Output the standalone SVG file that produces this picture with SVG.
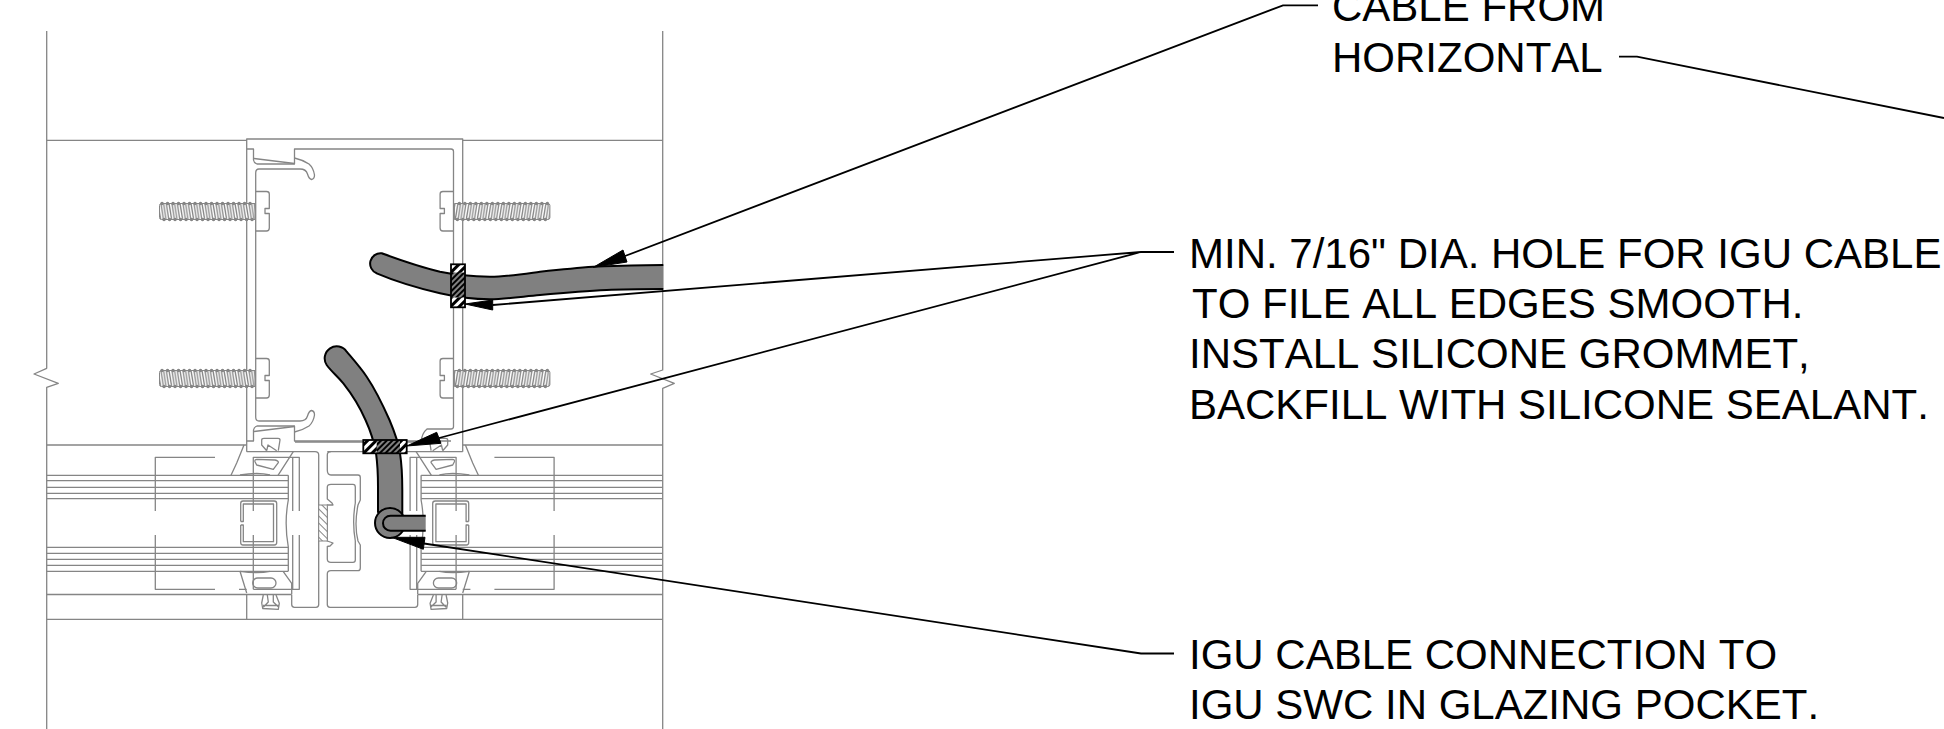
<svg xmlns="http://www.w3.org/2000/svg" xmlns:xlink="http://www.w3.org/1999/xlink" width="1944" height="729" viewBox="0 0 1944 729">
<style>
.g{fill:none;stroke:#858585;stroke-width:1.3;stroke-linejoin:round}
.gw{fill:#fff;stroke:#858585;stroke-width:1.3;stroke-linejoin:round}
.k{fill:none;stroke:#000;stroke-width:2}
.l{fill:none;stroke:#000;stroke-width:1.8}
.a{fill:#000;stroke:#000;stroke-width:1}
.c{fill:#808080;stroke:none}
.t{font-family:"Liberation Sans",Arial,sans-serif;font-size:42px;fill:#000;font-kerning:none}
</style>
<defs>
<pattern id="thr" patternUnits="userSpaceOnUse" width="5.500" height="22" x="159" y="200">
<rect width="5.500" height="22" fill="#fff"/>
<path d="M-1.500 0L2 22M1.300 0L4.800 22M4 0L7.500 22" stroke="#858585" stroke-width="1.300" fill="none"/>
</pattern>
<pattern id="hw" patternUnits="userSpaceOnUse" width="6" height="6" patternTransform="rotate(45)">
<rect width="6" height="6" fill="#fff"/><rect width="3" height="6" fill="#000"/>
</pattern>
<pattern id="hk" patternUnits="userSpaceOnUse" width="4" height="4" patternTransform="rotate(45)">
<rect width="4" height="4" fill="#808080"/><rect width="2" height="4" fill="#000"/>
</pattern>
<pattern id="hg" patternUnits="userSpaceOnUse" width="5" height="5" patternTransform="rotate(-45)">
<rect width="5" height="5" fill="#fff"/><rect width="1" height="5" fill="#858585"/>
</pattern>
<g id="screw">
<path d="M255 203.500H161.500Q159.500 203.500 159.500 205.500V217.500Q159.500 219.500 161.500 219.500H255Z" fill="url(#thr)" stroke="#858585" stroke-width="1"/>
<path d="M162 203.500H255M164 219.500H255" fill="none" stroke="#858585" stroke-width="3.400" stroke-linecap="round" stroke-dasharray="0.100 5.400"/>
<path d="M255.700 191.500H266.500Q269.300 191.500 269.300 194V208.500H265V213.500H269.300V228Q269.300 231 266.500 231H255.700" class="gw"/>
</g>
<g id="clip">
<path d="M246.700 149H253.500V160Q254 163 257 164H294.500V149H451" class="g"/>
<path d="M254 158.500L294.500 163.500" class="g"/>
<path d="M255.700 295V173Q255.700 169 259 169H300Q306 169 307.500 174Q309 179 311.500 179.500Q314.500 179 314.500 175Q313.500 168 309 164Q303 160 294.500 158" class="g"/>
</g>
<g id="side">
<path d="M155.300 511V457.300H215M155.300 535V589.300H215M239 589.300H246.700M253.300 589.300H299.300V535M299.300 511V457.300H253.300V511M253.300 535V589.300" class="g"/>
<path d="M292.700 457.300V511M292.700 535V589.300" class="g"/>
<path d="M46.700 475.300H288.300M46.700 480.700H288.300M46.700 487.300H288.300M46.700 493.300H288.300M46.700 498.700H288.300M46.700 547.300H288.300M46.700 553.300H288.300M46.700 559.300H288.300M46.700 565.300H288.300M46.700 571.300H288.300" class="g"/>
<path d="M288.300 475.300V500Q284 523 288.300 547V571.300" class="g"/>
<path d="M244 445L236.700 463L231 475.300M293.300 451.700L278 475.300M240 475Q258 472 270 475" class="g"/>
<path d="M240 571.300L246.700 593M283.300 571.700L291.700 583.300V594M270 571.300Q258 574 240 571.300" class="g"/>
<path d="M255 461.700Q254.500 459.300 257 459.300L275 460Q279 461 278.300 462.700L273.300 469.300L256.700 465Z" class="g"/>
<rect x="252.700" y="578" width="23.300" height="10" rx="5" class="g"/>
<path d="M240.700 521.500V503.500Q240.700 501 243 501H274.200Q276.700 501 276.700 503.500V542.500Q276.700 545 274.200 545H243Q240.700 545 240.700 542.500V525" class="g"/>
<path d="M240.700 521.500H243.300V504H273.500V541.700H243.300V525H240.700" class="g"/>
<path d="M266.700 450.700L261.700 445V440Q261.700 438.300 264 438.300H278Q280 438.300 280 440L278.300 450.700M266.700 450.700L268 445L276.700 450.700" class="g"/>
<path d="M263.300 595L261.700 603L262.700 608.500L278.300 609.300L279.300 603.300L276 595M267.300 595L268.300 602L263.300 607.300M273.300 595V602L278.300 606.700M263 605.500H279" class="g"/>
</g>
</defs>

<g id="lines">
<path d="M46.700 31V368.300L34 374L58.300 383.300L46.700 387.300V729" class="g"/>
<path d="M662.700 31V370L650.700 374L674.300 383.300L662.700 388.300V729" class="g"/>
<path d="M46.700 140.300H246.700M462.700 140.300H663M46.700 445H246.700M462.700 445H663M46.700 594.500H291.700M417.700 594.500H663M46.700 619.300H663" class="g"/>
<path d="M246.700 451.700V139H462.700V451.700M246.700 451.700H315M327.300 451.700H363M407 451.700H462.700M246.700 594.500V619.300M462.700 594.500V619.300" class="g"/>
</g>

<g id="frame">
<use xlink:href="#screw" href="#screw"/>
<use xlink:href="#screw" href="#screw" transform="translate(0,167)"/>
<use xlink:href="#screw" href="#screw" transform="translate(709.400,0) scale(-1,1)"/>
<use xlink:href="#screw" href="#screw" transform="translate(709.400,167) scale(-1,1)"/>
<use xlink:href="#clip" href="#clip"/>
<use xlink:href="#clip" href="#clip" transform="translate(0,590) scale(1,-1)"/>
<path d="M451 149Q453.500 149 453.500 151.500V426.500Q453.500 429 451 429H427Q422 433 421 442M295 442H421" class="g"/>
</g>

<g id="glazing">
<use xlink:href="#side" href="#side"/>
<use xlink:href="#side" href="#side" transform="translate(709.400,0) scale(-1,1)"/>
</g>

<g id="mullion">
<path d="M291.700 594.500V604.500Q291.700 607.300 294.500 607.300H316Q318.700 607.300 318.700 604.500V455Q318.700 451.700 315 451.700" class="g"/>
<path d="M327.300 455Q327.300 451.700 331 451.700M327.300 455V470Q327.300 475 331 475H358Q360.300 475 360.300 477.500V500L358 505Q354 525 358 541L360.300 545V568Q360.300 570.700 358 570.700H331Q327.300 570.700 327.300 574V604.500Q327.300 607.300 330 607.300H415Q417.700 607.300 417.700 604.500V594.500" class="g"/>
<path d="M327.300 487V499L332 503L333 505L327.300 505V541L333 543L330 546L327.300 546.500V559Q327.300 562.300 331 562.300H353Q355.300 562.300 355.300 560V541Q352 522 355.300 503V487Q355.300 484.300 353 484.300H331Q327.300 484.300 327.300 487Z" class="g"/>
<rect x="318.700" y="505" width="8.600" height="36" fill="url(#hg)" stroke="#858585" stroke-width="1"/>
</g>

<g id="cables">
<path class="c" d="M663.300 265C640 265 615 266 593.300 266.700C575 268 556 270 540 271.700C523 274 506 276.700 490 276.700C473 276.500 456 275 440 271.700C420 267 400 260 381.700 253.300A10.400 10.400 0 0 0 376.700 273.300C397 282 418 288 440 293.300C456 297 473 299.300 490 299.300C506 299 523 296.500 540 295C562 293 585 291 606.700 290C625 289 645 289 663.300 289Z"/>
<path class="k" d="M663.300 265C640 265 615 266 593.300 266.700C575 268 556 270 540 271.700C523 274 506 276.700 490 276.700C473 276.500 456 275 440 271.700C420 267 400 260 381.700 253.300A10.400 10.400 0 0 0 376.700 273.300C397 282 418 288 440 293.300C456 297 473 299.300 490 299.300C506 299 523 296.500 540 295C562 293 585 291 606.700 290C625 289 645 289 663.300 289"/>
<path d="M326.700 365A10.500 10.500 0 0 1 346.700 351.700C352 358 360 367 366.700 376.700C375 389 382 403 389.500 420C395 433 398.500 443 400 453.300C402 466 402.300 476 402.300 490V516L378 512V486.700C378 473 377.500 464 376 453C374 442 371 432 365.500 420C359 405 351 393 343.300 383.300C337 376 331 371 326.700 365Z" fill="#808080" stroke="#000" stroke-width="2"/>
<circle cx="390" cy="523" r="15" fill="#808080" stroke="#000" stroke-width="2"/>
<path d="M425.700 515.700H390.500A7.500 7.500 0 0 0 390.500 530.700H425.700Z" fill="#808080"/>
<path d="M425.700 515.700H390.500A7.500 7.500 0 0 0 390.500 530.700H425.700" class="k"/>
<rect x="451" y="264.300" width="14" height="43" fill="url(#hw)" stroke="none"/>
<rect x="451" y="272.500" width="14" height="25" fill="url(#hk)" stroke="none"/>
<rect x="451" y="264.300" width="14" height="43" fill="none" stroke="#000" stroke-width="1.800"/>
<rect x="363.300" y="440" width="43.400" height="13.300" fill="url(#hw)" stroke="none"/>
<rect x="376.700" y="440" width="23.300" height="13.300" fill="url(#hk)" stroke="none"/>
<rect x="363.300" y="440" width="43.400" height="13.300" fill="none" stroke="#000" stroke-width="1.800"/>
</g>

<g id="connectors">
<path class="l" d="M625 256L1283 5.300H1318"/>
<path class="a" d="M593.300 267.300L623 250L627 262Z"/>
<path class="l" d="M1619 56.700H1637L1944 118"/>
<path class="l" d="M492.700 305L1141 252H1174M439 438L1141 252"/>
<path class="a" d="M465 304L492.700 300V310Z"/>
<path class="a" d="M406.700 446L436.700 432.300L441 443.300Z"/>
<path class="l" d="M424 543.500L1141 653.500H1174"/>
<path class="a" d="M391.700 537.300L425 537.300L423.300 549.300Z"/>
</g>

<g id="labels">
<text class="t" x="1332" y="21">CABLE FROM</text>
<text class="t" x="1332" y="71.500">HORIZONTAL</text>
<text class="t" x="1189" y="268.300">MIN. 7/16" DIA. HOLE FOR IGU CABLE</text>
<text class="t" x="1192" y="318.300">TO FILE ALL EDGES SMOOTH.</text>
<text class="t" x="1189" y="368.300">INSTALL SILICONE GROMMET,</text>
<text class="t" x="1189" y="418.500">BACKFILL WITH SILICONE SEALANT.</text>
<text class="t" x="1189" y="669">IGU CABLE CONNECTION TO</text>
<text class="t" x="1189" y="719">IGU SWC IN GLAZING POCKET.</text>
</g>
</svg>
